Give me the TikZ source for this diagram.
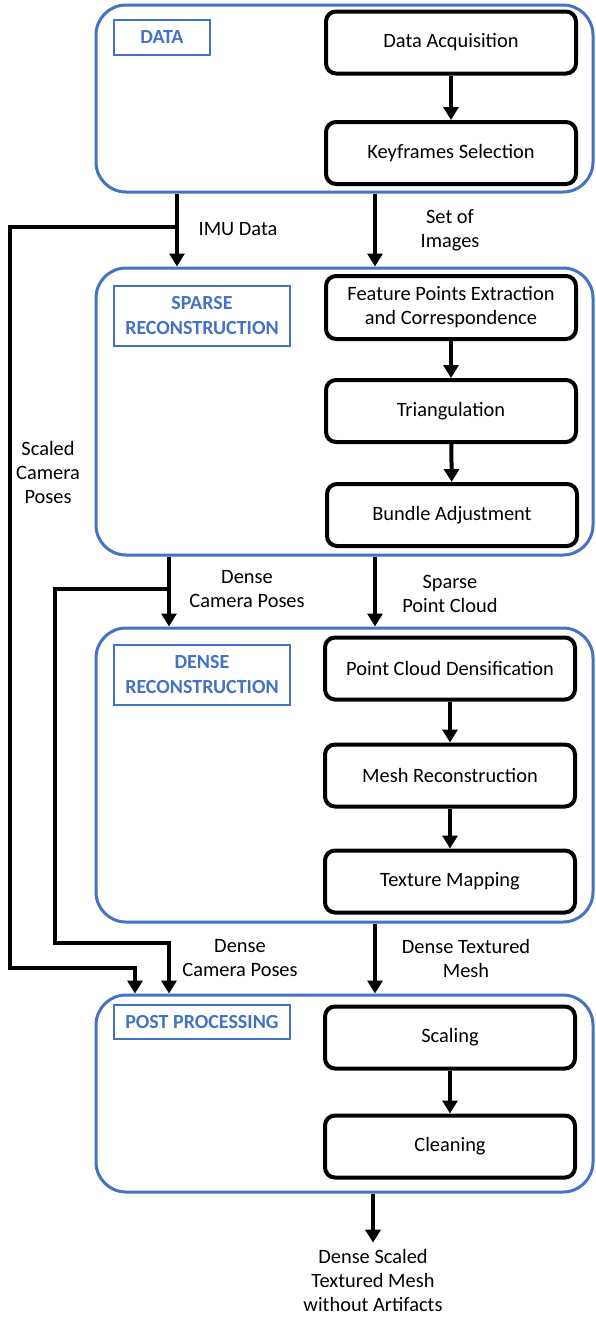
\documentclass[tikz,border=0pt]{standalone}
\usepackage{fontspec}
\setmainfont{Carlito}
\usepackage{tikz}
\usepackage{xcolor}
\usetikzlibrary{arrows.meta}
\definecolor{stageblue}{HTML}{4472C4}

\tikzset{
  stage/.style={draw=stageblue, line width=3pt, rounded corners=30pt, minimum width=497pt, inner sep=0pt},
  tag/.style={draw=stageblue, line width=2.5pt, text=stageblue, font=\fontsize{20}{25}\selectfont\bfseries, align=center, minimum width=176pt, inner sep=0pt},
  proc/.style={draw=black, line width=4pt, rounded corners=10pt, minimum width=250pt, minimum height=62pt, align=center, inner sep=0pt},
  flow/.style={line width=4pt, -{Triangle[width=15pt,length=13pt]}},
  note/.style={align=center, inner sep=0pt},
}

\begin{document}
\begin{tikzpicture}[x=1pt, y=-1pt, font=\fontsize{20.4}{24}\selectfont]
    \useasboundingbox (0,0) rectangle (595,1317);

    % Data
    \node[stage, minimum height=187pt] (data) at (344.5,98.5) {};
    \node[tag, minimum width=96pt, minimum height=35pt] (datatag) at (162,37.5) {DATA};
    \node[proc] (daq) at (451,42.5) {Data Acquisition};
    \node[proc] (kfs) at (451,153) {Keyframes Selection};
    \draw[flow] (daq) -- (kfs);

    % Sparse reconstruction
    \node[stage, minimum height=287pt] (sparse) at (344.5,411.5) {};
    \node[tag, minimum height=60pt] (sparsetag) at (202,316) {SPARSE\\RECONSTRUCTION};
    \node[proc, minimum height=63pt] (fpe) at (451,307.5) {Feature Points Extraction\\and Correspondence};
    \node[proc] (tri) at (451,411) {Triangulation};
    \node[proc] (bun) at (452,515) {Bundle Adjustment};
    \draw[flow] (fpe) -- (tri);
    \draw[flow] (tri) -- (bun);

    % Dense reconstruction
    \node[stage, minimum height=294pt] (dense) at (344.5,775) {};
    \node[tag, minimum height=60pt] (densetag) at (202,675) {DENSE\\RECONSTRUCTION};
    \node[proc] (pcd) at (450,668.5) {Point Cloud Densification};
    \node[proc] (mesh) at (450,775.5) {Mesh Reconstruction};
    \node[proc] (tex) at (450,881.5) {Texture Mapping};
    \draw[flow] (pcd) -- (mesh);
    \draw[flow] (mesh) -- (tex);

    % Post processing
    \node[stage, minimum height=197pt] (post) at (344.5,1093.5) {};
    \node[tag, minimum height=34pt] (posttag) at (202,1022) {POST PROCESSING};
    \node[proc] (scal) at (450,1037.5) {Scaling};
    \node[proc] (clean) at (450,1146.5) {Cleaning};
    \draw[flow] (scal) -- (clean);

    % Between stages
    \coordinate (mainx) at (375,0);
    \coordinate (imux) at (177,0);
    \coordinate (dcpx) at (169,0);
    \draw[flow] (data.south -| mainx) -- (sparse.north -| mainx);
    \draw[flow] (data.south -| imux) -- (sparse.north -| imux);
    \draw[flow] (sparse.south -| mainx) -- (dense.north -| mainx);
    \draw[flow] (sparse.south -| dcpx) -- (dense.north -| dcpx);
    \draw[flow] (dense.south -| mainx) -- (post.north -| mainx);

    % Side branches
    \coordinate (imusplit) at (177,227);
    \coordinate (imuleft) at (10,968);
    \coordinate (imudrop) at (135,968);
    \draw[flow] (imusplit) -| (imuleft) -- (imudrop) -- (post.north -| imudrop);
    \coordinate (dcpsplit) at (169,589);
    \coordinate (dcpleft) at (55,943);
    \coordinate (dcpdrop) at (169,943);
    \draw[flow] (dcpsplit) -| (dcpleft) -- (dcpdrop) -- (post.north -| dcpdrop);

    % Labels
    \node[note] (imulbl) at (238,229) {IMU Data};
    \node[note] (setlbl) at (450,230) {Set of\\Images};
    \node[note] (dcplbl) at (247,589) {Dense\\Camera Poses};
    \node[note] (spclbl) at (450,594) {Sparse\\Point Cloud};
    \node[note] (scplbl) at (48,472) {Scaled\\Camera\\Poses};
    \node[note] (dcplbltwo) at (240,958) {Dense\\Camera Poses};
    \node[note] (dtmlbl) at (466,958) {Dense Textured\\Mesh};

    % Output
    \node[note] (result) at (373,1280) {Dense Scaled\\Textured Mesh\\without Artifacts};
    \draw[flow] (post.south -| result) -- ([yshift=6pt]result.north);
\end{tikzpicture}
\end{document}
